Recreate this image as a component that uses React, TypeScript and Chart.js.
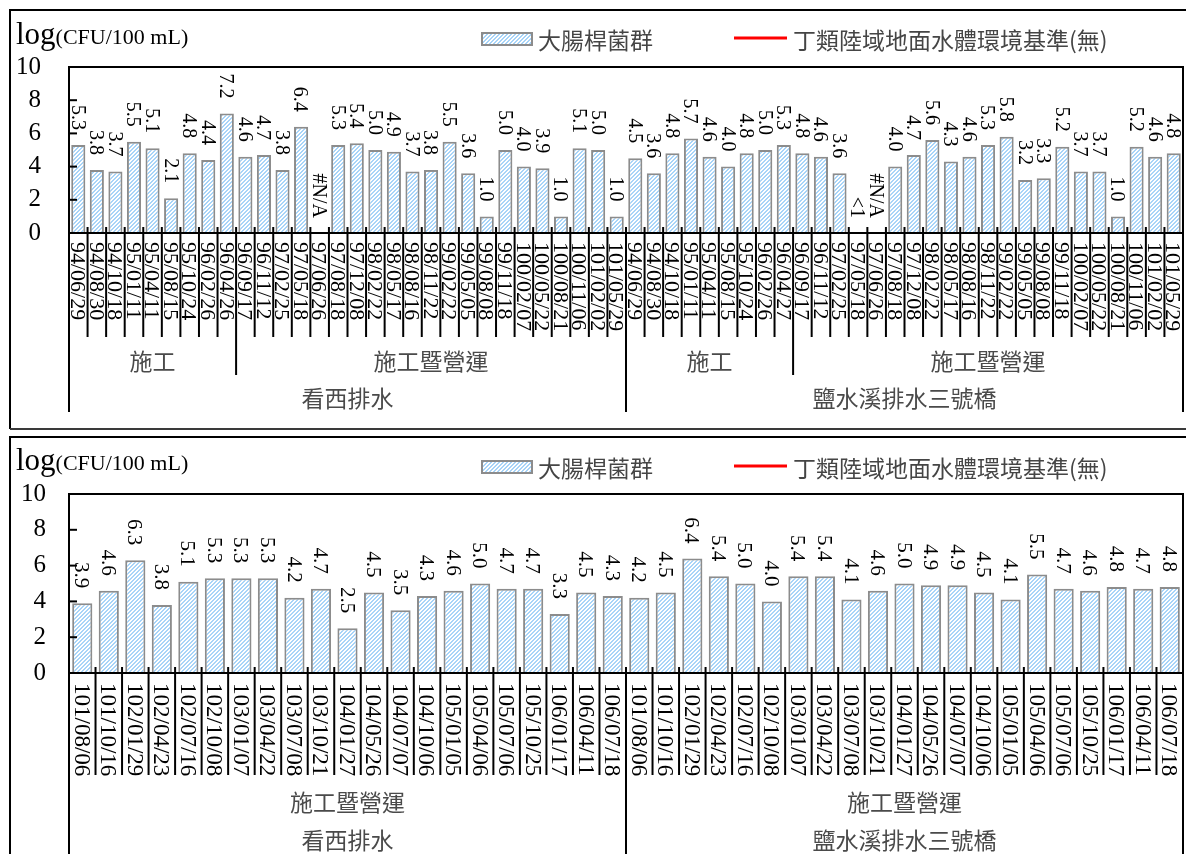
import React, { useEffect, useRef } from 'react';
import { Chart, registerables } from 'chart.js';

Chart.register(...registerables);

const SERIF = '"Liberation Serif", "Times New Roman", serif';
const CJK = '"Noto Sans CJK TC", "Noto Sans CJK SC", sans-serif';

// ---------------- data ----------------
const seriesLabel = '大腸桿菌群';
const standardLabel = '丁類陸域地面水體環境基準(無)';
const yTitleMain = 'log';
const yTitleUnit = '(CFU/100 mL)';
const yMin = 0;
const yMax = 10;
const yStep = 2;

const topDates = [
  '94/06/29', '94/08/30', '94/10/18', '95/01/11', '95/04/11', '95/08/15', '95/10/24', '96/02/26', '96/04/26',
  '96/09/17', '96/11/12', '97/02/25', '97/05/18', '97/06/26', '97/08/18', '97/12/08', '98/02/22', '98/05/17',
  '98/08/16', '98/11/22', '99/02/22', '99/05/05', '99/08/08', '99/11/18', '100/02/07', '100/05/22', '100/08/21',
  '100/11/06', '101/02/02', '101/05/29',
  '94/06/29', '94/08/30', '94/10/18', '95/01/11', '95/04/11', '95/08/15', '95/10/24', '96/02/26', '96/04/27',
  '96/09/17', '96/11/12', '97/02/25', '97/05/18', '97/06/26', '97/08/18', '97/12/08', '98/02/22', '98/05/17',
  '98/08/16', '98/11/22', '99/02/22', '99/05/05', '99/08/08', '99/11/18', '100/02/07', '100/05/22', '100/08/21',
  '100/11/06', '101/02/02', '101/05/29',
];
const topValues: (number | null)[] = [
  5.3, 3.8, 3.7, 5.5, 5.1, 2.1, 4.8, 4.4, 7.2,
  4.6, 4.7, 3.8, 6.4, null, 5.3, 5.4, 5.0, 4.9, 3.7, 3.8, 5.5, 3.6, 1.0, 5.0, 4.0, 3.9, 1.0, 5.1, 5.0, 1.0,
  4.5, 3.6, 4.8, 5.7, 4.6, 4.0, 4.8, 5.0, 5.3,
  4.8, 4.6, 3.6, null, null, 4.0, 4.7, 5.6, 4.3, 4.6, 5.3, 5.8, 3.2, 3.3, 5.2, 3.7, 3.7, 1.0, 5.2, 4.6, 4.8,
];
const topMissing = [
  { index: 13, text: '#N/A' },
  { index: 42, text: '<1' },
  { index: 43, text: '#N/A' },
];
const topPhases = [
  { label: '施工', count: 9 },
  { label: '施工暨營運', count: 21 },
  { label: '施工', count: 9 },
  { label: '施工暨營運', count: 21 },
];
const topStations = [
  { label: '看西排水', count: 30 },
  { label: '鹽水溪排水三號橋', count: 30 },
];

const bottomDates = [
  '101/08/06', '101/10/16', '102/01/29', '102/04/23', '102/07/16', '102/10/08', '103/01/07', '103/04/22',
  '103/07/08', '103/10/21', '104/01/27', '104/05/26', '104/07/07', '104/10/06', '105/01/05', '105/04/06',
  '105/07/06', '105/10/25', '106/01/17', '106/04/11', '106/07/18',
  '101/08/06', '101/10/16', '102/01/29', '102/04/23', '102/07/16', '102/10/08', '103/01/07', '103/04/22',
  '103/07/08', '103/10/21', '104/01/27', '104/05/26', '104/07/07', '104/10/06', '105/01/05', '105/04/06',
  '105/07/06', '105/10/25', '106/01/17', '106/04/11', '106/07/18',
];
const bottomValues: (number | null)[] = [
  3.9, 4.6, 6.3, 3.8, 5.1, 5.3, 5.3, 5.3, 4.2, 4.7, 2.5, 4.5, 3.5, 4.3, 4.6, 5.0, 4.7, 4.7, 3.3, 4.5, 4.3,
  4.2, 4.5, 6.4, 5.4, 5.0, 4.0, 5.4, 5.4, 4.1, 4.6, 5.0, 4.9, 4.9, 4.5, 4.1, 5.5, 4.7, 4.6, 4.8, 4.7, 4.8,
];
const bottomMissing: { index: number; text: string }[] = [];
const bottomPhases = [
  { label: '施工暨營運', count: 21 },
  { label: '施工暨營運', count: 21 },
];
const bottomStations = [
  { label: '看西排水', count: 21 },
  { label: '鹽水溪排水三號橋', count: 21 },
];

// ---------------- layout ----------------
type Group = { label: string; count: number };
type Missing = { index: number; text: string };
interface Layout {
  top: number;
  height: number;
  plotTop: number;
  plotBottom: number;
  tickPad: number;
  outerTop: number;
  outerBottom: number | null;
  legendY: number;
  titleBaseline: number;
  labelStart: number;
  labelSize: number;
  valueSize: number;
  sepEnd1: number;
  sepEnd2: number;
  sepEnd3: number;
  level2Y: number;
  level3Y: number;
}

const W = 1186;
const PLOT_LEFT = 69;
const PLOT_RIGHT = 1183;

const TOP_LAYOUT: Layout = {
  top: 0, height: 432, plotTop: 67, plotBottom: 233, tickPad: 28,
  outerTop: 10, outerBottom: 429, legendY: 39, titleBaseline: 44,
  labelStart: 242, labelSize: 22, valueSize: 20,
  sepEnd1: 337, sepEnd2: 375, sepEnd3: 412, level2Y: 361, level3Y: 398,
};
const BOTTOM_LAYOUT: Layout = {
  top: 432, height: 422, plotTop: 62, plotBottom: 241, tickPad: 23,
  outerTop: 5, outerBottom: null, legendY: 35, titleBaseline: 38,
  labelStart: 251, labelSize: 23, valueSize: 21,
  sepEnd1: 343, sepEnd2: 422, sepEnd3: 422, level2Y: 370, level3Y: 408,
};

function makePattern(ctx: CanvasRenderingContext2D): CanvasPattern | string {
  const tile = document.createElement('canvas');
  tile.width = 4;
  tile.height = 4;
  const t = tile.getContext('2d');
  if (!t) return '#cfe6fa';
  const img = t.createImageData(4, 4);
  for (let y = 0; y < 4; y++) {
    for (let x = 0; x < 4; x++) {
      const k = (y * 4 + x) * 4;
      const blue = (x + y) % 4 < 2;
      img.data[k] = blue ? 168 : 255;
      img.data[k + 1] = blue ? 212 : 255;
      img.data[k + 2] = blue ? 248 : 255;
      img.data[k + 3] = 255;
    }
  }
  t.putImageData(img, 0, 0);
  return ctx.createPattern(tile, 'repeat') || '#cfe6fa';
}

function drawDown(ctx: CanvasRenderingContext2D, text: string, x: number, y: number, align: CanvasTextAlign, size: number) {
  ctx.save();
  ctx.translate(x, y);
  ctx.rotate(Math.PI / 2);
  ctx.textAlign = align;
  ctx.textBaseline = 'alphabetic';
  ctx.fillText(text, 0, size * 0.33);
  ctx.restore();
}

function line(ctx: CanvasRenderingContext2D, x1: number, y1: number, x2: number, y2: number) {
  ctx.beginPath();
  ctx.moveTo(x1, y1);
  ctx.lineTo(x2, y2);
  ctx.stroke();
}

function createPanel(
  canvas: HTMLCanvasElement,
  L: Layout,
  dates: string[],
  values: (number | null)[],
  missing: Missing[],
  phases: Group[],
  stations: Group[],
): Chart {
  const ctx0 = canvas.getContext('2d') as CanvasRenderingContext2D;
  const pattern = makePattern(ctx0);

  const decor = {
    id: 'panelDecor',
    beforeDraw(chart: any) {
      const ctx = chart.ctx as CanvasRenderingContext2D;
      ctx.save();
      ctx.fillStyle = '#ffffff';
      ctx.fillRect(0, 0, W, L.height);
      // outer frame
      ctx.strokeStyle = '#000';
      ctx.lineWidth = 2;
      ctx.beginPath();
      ctx.moveTo(W + 2, L.outerTop);
      ctx.lineTo(10, L.outerTop);
      ctx.lineTo(10, L.outerBottom ?? L.height + 2);
      ctx.stroke();
      if (L.outerBottom !== null) {
        ctx.strokeStyle = '#3a3a3a';
        line(ctx, 10, L.outerBottom, W + 2, L.outerBottom);
      }
      // y title
      ctx.fillStyle = '#000';
      ctx.textAlign = 'left';
      ctx.textBaseline = 'alphabetic';
      ctx.font = `31px ${SERIF}`;
      ctx.fillText(yTitleMain, 16, L.titleBaseline);
      const w = ctx.measureText(yTitleMain).width;
      ctx.font = `22px ${SERIF}`;
      ctx.fillText(yTitleUnit, 16 + w, L.titleBaseline);
      // legend
      const ly = L.legendY;
      ctx.fillStyle = pattern as any;
      ctx.fillRect(482, ly - 6, 50, 12);
      ctx.strokeStyle = '#8c8c8c';
      ctx.lineWidth = 2;
      ctx.strokeRect(482, ly - 6, 50, 12);
      ctx.fillStyle = '#454545';
      ctx.font = `23px ${CJK}`;
      ctx.textBaseline = 'middle';
      ctx.fillText(chart.data.datasets[0].label, 538, ly + 1);
      ctx.strokeStyle = chart.data.datasets[1].borderColor;
      ctx.lineWidth = 3;
      line(ctx, 734, ly - 1, 787, ly - 1);
      ctx.fillText(chart.data.datasets[1].label, 793, ly + 1);
      ctx.restore();
    },
    afterDraw(chart: any) {
      const ctx = chart.ctx as CanvasRenderingContext2D;
      const xs = chart.scales.x;
      const ys = chart.scales.y;
      const a = chart.chartArea;
      const n = dates.length;
      const half = (xs.getPixelForValue(1) - xs.getPixelForValue(0)) / 2;
      const bound = (k: number) => (k < n ? xs.getPixelForValue(k) - half : xs.getPixelForValue(n - 1) + half);
      ctx.save();
      // plot frame
      ctx.strokeStyle = '#000';
      ctx.lineWidth = 2;
      ctx.strokeRect(a.left, a.top, a.right - a.left, a.bottom - a.top);
      // y inner ticks
      for (let v = yMin + yStep; v < yMax; v += yStep) {
        const py = ys.getPixelForValue(v);
        line(ctx, a.left, py, a.left + 8, py);
      }
      // separators
      const stationB = new Set<number>([0]);
      let c = 0;
      stations.forEach((s) => { c += s.count; stationB.add(c); });
      const phaseB = new Set<number>([0]);
      c = 0;
      phases.forEach((p) => { c += p.count; phaseB.add(c); });
      for (let k = 0; k <= n; k++) {
        const bx = bound(k);
        const end = stationB.has(k) ? L.sepEnd3 : phaseB.has(k) ? L.sepEnd2 : L.sepEnd1;
        line(ctx, bx, a.bottom - 6, bx, end);
      }
      // category labels
      ctx.fillStyle = '#000';
      ctx.font = `${L.labelSize}px ${SERIF}`;
      for (let i = 0; i < n; i++) {
        drawDown(ctx, dates[i], xs.getPixelForValue(i), L.labelStart, 'left', L.labelSize);
      }
      // value labels
      ctx.font = `${L.valueSize}px ${SERIF}`;
      for (let i = 0; i < n; i++) {
        const v = values[i];
        const m = missing.find((q) => q.index === i);
        const text = v === null ? (m ? m.text : '') : v.toFixed(1);
        if (!text) continue;
        const py = ys.getPixelForValue(v === null ? 0 : v);
        drawDown(ctx, text, xs.getPixelForValue(i), py - 15, 'right', L.valueSize);
      }
      // group labels
      ctx.fillStyle = '#4a4a4a';
      ctx.font = `23px ${CJK}`;
      ctx.textAlign = 'center';
      ctx.textBaseline = 'middle';
      c = 0;
      phases.forEach((p) => {
        const cx = (bound(c) + bound(c + p.count)) / 2;
        ctx.fillText(p.label, cx, L.level2Y);
        c += p.count;
      });
      c = 0;
      stations.forEach((s) => {
        const cx = (bound(c) + bound(c + s.count)) / 2;
        ctx.fillText(s.label, cx, L.level3Y);
        c += s.count;
      });
      ctx.restore();
    },
  };

  return new Chart(canvas, {
    type: 'bar',
    data: {
      labels: dates,
      datasets: [
        {
          type: 'bar',
          label: seriesLabel,
          data: values,
          backgroundColor: pattern as any,
          borderColor: '#8c8c8c',
          borderWidth: 2,
          barPercentage: 0.76,
          categoryPercentage: 1,
        } as any,
        {
          type: 'line',
          label: standardLabel,
          data: dates.map(() => null),
          borderColor: '#ff0000',
          borderWidth: 3,
          pointRadius: 0,
        } as any,
      ],
    },
    options: {
      responsive: false,
      animation: false,
      events: [],
      layout: { padding: { left: 0, right: W - PLOT_RIGHT, top: L.plotTop, bottom: L.height - L.plotBottom } },
      plugins: { legend: { display: false }, tooltip: { enabled: false } },
      scales: {
        x: { type: 'category', display: false, offset: true },
        y: {
          min: yMin,
          max: yMax,
          ticks: {
            stepSize: yStep, autoSkip: false, color: '#000',
            font: { family: SERIF, size: 25 }, padding: L.tickPad,
          },
          grid: { display: false, drawTicks: false },
          border: { display: false },
          afterFit: (s: any) => { s.width = PLOT_LEFT; },
        },
      },
    } as any,
    plugins: [decor],
  });
}

export default function App() {
  const topRef = useRef<HTMLCanvasElement>(null);
  const botRef = useRef<HTMLCanvasElement>(null);
  useEffect(() => {
    const charts: Chart[] = [];
    if (topRef.current) charts.push(createPanel(topRef.current, TOP_LAYOUT, topDates, topValues, topMissing, topPhases, topStations));
    if (botRef.current) charts.push(createPanel(botRef.current, BOTTOM_LAYOUT, bottomDates, bottomValues, bottomMissing, bottomPhases, bottomStations));
    return () => charts.forEach((c) => c.destroy());
  }, []);
  return (
    <div style={{ position: 'fixed', left: 0, top: 0, width: W, height: 854, background: '#fff', overflow: 'hidden' }}>
      <canvas ref={topRef} width={W} height={TOP_LAYOUT.height}
        style={{ position: 'absolute', left: 0, top: TOP_LAYOUT.top, display: 'block' }} />
      <canvas ref={botRef} width={W} height={BOTTOM_LAYOUT.height}
        style={{ position: 'absolute', left: 0, top: BOTTOM_LAYOUT.top, display: 'block' }} />
    </div>
  );
}
